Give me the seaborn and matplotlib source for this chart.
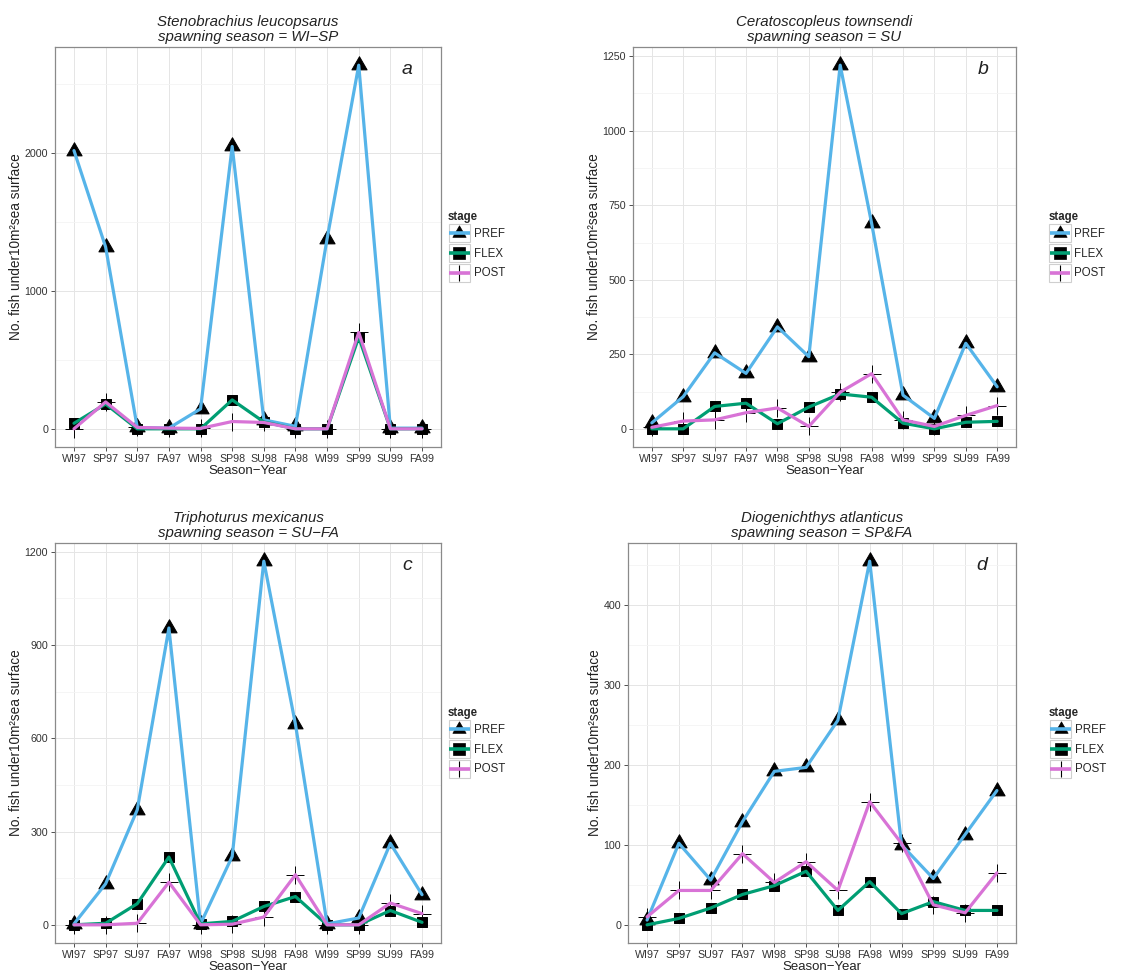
import numpy as np
import pandas as pd
import matplotlib
matplotlib.use("Agg")
import matplotlib.pyplot as plt
import seaborn as sns
from matplotlib.path import Path
from matplotlib.lines import Line2D
from matplotlib.patches import Rectangle
from matplotlib.legend_handler import HandlerBase
from matplotlib.ticker import MultipleLocator

# ---- data -------------------------------------------------------------
seasons = ["WI97", "SP97", "SU97", "FA97", "WI98", "SP98",
           "SU98", "FA98", "WI99", "SP99", "SU99", "FA99"]
stages = ["PREF", "FLEX", "POST"]

# (a) Stenobrachius leucopsarus
pref_a = [2020, 1320, 10, 5, 145, 2050, 65, 18, 1380, 2640, 5, 5]
flex_a = [40, 180, 0, 0, 0, 210, 50, 0, 0, 665, 0, 0]
post_a = [0, 195, 10, 5, 3, 53, 46, 0, 0, 700, 0, 0]

# (b) Ceratoscopleus townsendi
pref_b = [20, 108, 255, 186, 342, 242, 1220, 690, 113, 35, 287, 141]
flex_b = [0, 0, 75, 86, 17, 73, 117, 106, 19, 0, 22, 25]
post_b = [5, 26, 30, 54, 70, 8, 123, 185, 30, 8, 45, 78]

# (c) Triphoturus mexicanus
pref_c = [3, 132, 370, 955, 3, 220, 1170, 645, 3, 22, 262, 97]
flex_c = [0, 5, 68, 218, 3, 11, 59, 91, 0, 0, 46, 8]
post_c = [0, 0, 5, 137, 0, 2, 25, 161, 0, 0, 70, 36]

# (d) Diogenichthys atlanticus
pref_d = [6, 102, 56, 129, 192, 197, 256, 455, 100, 58, 113, 168]
flex_d = [0, 8, 21, 38, 49, 67, 18, 54, 14, 29, 18, 18]
post_d = [10, 43, 43, 89, 53, 79, 43, 154, 102, 25, 15, 65]

species = ["Stenobrachius leucopsarus", "Ceratoscopleus townsendi",
           "Triphoturus mexicanus", "Diogenichthys atlanticus"]
spawning = ["WI\u2212SP", "SU", "SU\u2212FA", "SP&FA"]
letters = ["a", "b", "c", "d"]
tick_steps = [1000, 250, 300, 100]
series = [(pref_a, flex_a, post_a), (pref_b, flex_b, post_b),
          (pref_c, flex_c, post_c), (pref_d, flex_d, post_d)]

# ---- style ------------------------------------------------------------
sns.set_theme(style="white")
plt.rcParams["font.family"] = ["Liberation Sans", "DejaVu Sans"]

palette = {"PREF": "#56B4E9", "FLEX": "#009E73", "POST": "#D873D6"}
# equilateral triangle centred on its centroid
tri = Path([(0, 1), (-0.866, -0.5), (0.866, -0.5), (0, 1)],
           [Path.MOVETO, Path.LINETO, Path.LINETO, Path.CLOSEPOLY])
marker_map = {"PREF": tri, "FLEX": "s", "POST": "+"}
size_map = {"PREF": 160, "FLEX": 55, "POST": 165}

TEXT = "#222222"
TICK = "#333333"


class StageKey:
    def __init__(self, color, marker, ms, mew):
        self.color, self.marker, self.ms, self.mew = color, marker, ms, mew


class KeyHandler(HandlerBase):
    def create_artists(self, legend, h, xdescent, ydescent, width, height,
                       fontsize, trans):
        x0, y0 = -xdescent, -ydescent
        box = Rectangle((x0 + 0.6, y0 + 0.6), width - 1.2, height - 1.2,
                        facecolor="white", edgecolor="#CFCFCF", lw=0.8,
                        transform=trans)
        cx, cy = x0 + width / 2, y0 + height / 2
        mk = Line2D([cx], [cy], marker=h.marker, ms=h.ms, color="black",
                    mew=h.mew, ls="none", transform=trans)
        ln = Line2D([x0 + 1, x0 + width - 1], [cy, cy], color=h.color,
                    lw=2.6, solid_capstyle="butt", transform=trans)
        return [box, mk, ln]


key_handles = [StageKey(palette["PREF"], tri, 11, 0.5),
               StageKey(palette["FLEX"], "s", 8, 0.5),
               StageKey(palette["POST"], "+", 12, 0.8)]

fig = plt.figure(figsize=(11.25, 9.76), dpi=100)
W, H = 1125, 976
rects = [(55, 47, 441, 447), (633, 47, 1016, 447),
         (55, 543, 441, 943), (628, 543, 1016, 943)]
legend_x = [1.018, 1.085, 1.018, 1.085]

for i, (l, t, r, b) in enumerate(rects):
    ax = fig.add_axes([l / W, (H - b) / H, (r - l) / W, (b - t) / H])
    pref, flex, post = series[i]
    df = pd.DataFrame({
        "pos": np.tile(np.arange(len(seasons)), 3),
        "stage": np.repeat(stages, len(seasons)),
        "count": np.concatenate([pref, flex, post]).astype(float),
    })

    # black stage markers underneath the coloured lines
    for st in stages:
        sub = df[df["stage"] == st]
        sns.scatterplot(data=sub, x="pos", y="count", marker=marker_map[st],
                        s=size_map[st], color="black", edgecolor="black",
                        linewidth=0.7, legend=False, ax=ax, zorder=2)
    sns.lineplot(data=df, x="pos", y="count", hue="stage",
                 hue_order=stages, palette=palette, linewidth=2.3,
                 errorbar=None, legend=False, ax=ax, zorder=3,
                 solid_joinstyle="round")

    ymax = df["count"].max()
    ax.set_ylim(-0.05 * ymax, 1.05 * ymax)
    ax.set_xlim(-0.6, len(seasons) - 0.4)
    ax.set_xticks(range(len(seasons)))
    ax.set_xticklabels(seasons)
    step = tick_steps[i]
    ax.yaxis.set_major_locator(MultipleLocator(step))
    ax.yaxis.set_minor_locator(MultipleLocator(step / 2))

    ax.set_facecolor("white")
    ax.grid(True, which="major", color="#E5E5E5", lw=0.7)
    ax.grid(True, which="minor", axis="y", color="#F4F4F4", lw=0.6)
    ax.set_axisbelow(True)
    for s in ax.spines.values():
        s.set_color("#8A8A8A")
        s.set_linewidth(0.9)
    ax.tick_params(which="major", length=3, width=0.6, color=TICK,
                   labelsize=7.7, labelcolor=TICK, pad=2,
                   bottom=True, left=True)
    ax.tick_params(which="minor", length=0)

    ax.set_xlabel("Season\u2212Year", fontsize=9.5, color=TEXT, labelpad=0.5)
    ax.set_ylabel("No. fish under10m\u00b2sea surface", fontsize=9.8,
                  color=TEXT, labelpad=1)
    ax.set_title(f"{species[i]}\nspawning season = {spawning[i]}",
                 fontsize=10.8, style="italic", color=TEXT, pad=4,
                 linespacing=1.1)
    ax.text(0.913, 0.945, letters[i], transform=ax.transAxes,
            fontsize=14, style="italic", color=TEXT,
            ha="center", va="center")

    ax.legend(handles=key_handles, labels=stages, title="stage",
              loc="center left", bbox_to_anchor=(legend_x[i], 0.5),
              frameon=False, handler_map={StageKey: KeyHandler()},
              handlelength=2.0, handleheight=2.26, labelspacing=0,
              handletextpad=0.25, borderaxespad=0, borderpad=0,
              fontsize=8.3, alignment="left",
              title_fontproperties={"weight": "bold", "size": 8.3})

fig.savefig("out.png", dpi=100, facecolor="white")
